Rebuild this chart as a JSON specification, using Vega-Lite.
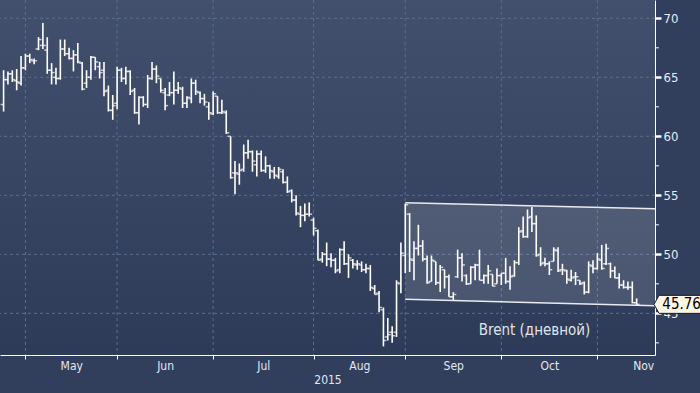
{
  "$schema": "https://vega.github.io/schema/vega-lite/v6.json",
  "width": 655,
  "height": 355,
  "autosize": {"type": "none"},
  "padding": {"left": 0, "top": 0, "right": 45, "bottom": 38},
  "background": "#313e5c",
  "config": {
    "view": {"stroke": null, "fill": {"gradient": "linear", "x1": 0, "y1": 0, "x2": 0, "y2": 1, "stops": [{"offset": 0, "color": "#43506d"}, {"offset": 1, "color": "#2d3a58"}]}},
    "font": "DejaVu Sans Condensed"
  },
  "datasets": {
    "ohlc": [
      {"j": -5, "o": 62.7, "h": 65.6, "l": 62.1, "c": 64.8},
      {"j": -4, "o": 64.8, "h": 65.5, "l": 64.4, "c": 65.3},
      {"j": -3, "o": 65.3, "h": 65.6, "l": 64.6, "c": 64.8},
      {"j": -2, "o": 64.7, "h": 65.7, "l": 63.9, "c": 64.6},
      {"j": -1, "o": 64.5, "h": 66.8, "l": 64.3, "c": 65.8},
      {"j": 0, "o": 65.8, "h": 67.0, "l": 65.6, "c": 66.8},
      {"j": 1, "o": 66.8, "h": 67.0, "l": 66.2, "c": 66.5},
      {"j": 2, "o": 66.4, "h": 66.6, "l": 66.1, "c": 66.4},
      {"j": 3, "o": 67.4, "h": 68.4, "l": 67.3, "c": 68.2},
      {"j": 4, "o": 67.7, "h": 69.6, "l": 67.4, "c": 67.7},
      {"j": 5, "o": 67.3, "h": 68.4, "l": 65.3, "c": 65.6},
      {"j": 6, "o": 65.6, "h": 66.2, "l": 64.4, "c": 65.4},
      {"j": 7, "o": 65.0, "h": 65.8, "l": 64.4, "c": 64.9},
      {"j": 8, "o": 64.9, "h": 68.2, "l": 64.8, "c": 67.4},
      {"j": 9, "o": 67.4, "h": 68.2, "l": 66.8, "c": 67.0},
      {"j": 10, "o": 67.0, "h": 67.5, "l": 66.5, "c": 66.6},
      {"j": 11, "o": 66.6, "h": 67.3, "l": 65.5, "c": 66.9},
      {"j": 12, "o": 66.9, "h": 67.9, "l": 66.2, "c": 66.3},
      {"j": 13, "o": 66.2, "h": 66.3, "l": 63.9, "c": 64.0},
      {"j": 14, "o": 64.5, "h": 65.6, "l": 64.1, "c": 65.0},
      {"j": 15, "o": 65.0, "h": 66.8, "l": 64.8, "c": 66.7},
      {"j": 16, "o": 66.7, "h": 66.7, "l": 65.6, "c": 66.3},
      {"j": 17, "o": 65.9, "h": 66.3, "l": 64.9, "c": 65.4},
      {"j": 18, "o": 65.6, "h": 66.3, "l": 63.4, "c": 63.8},
      {"j": 19, "o": 63.9, "h": 64.3, "l": 62.1, "c": 62.2},
      {"j": 20, "o": 62.2, "h": 63.5, "l": 61.4, "c": 62.6},
      {"j": 21, "o": 62.8, "h": 65.9, "l": 62.3, "c": 65.6},
      {"j": 22, "o": 65.6, "h": 65.8, "l": 64.6, "c": 64.9},
      {"j": 23, "o": 64.9, "h": 65.9, "l": 64.4, "c": 65.5},
      {"j": 24, "o": 65.5, "h": 65.6, "l": 63.5, "c": 63.8},
      {"j": 25, "o": 63.9, "h": 64.1, "l": 61.9, "c": 62.0},
      {"j": 26, "o": 62.0, "h": 63.4, "l": 61.0, "c": 63.3},
      {"j": 27, "o": 63.3, "h": 63.4, "l": 62.5, "c": 62.7},
      {"j": 28, "o": 62.7, "h": 65.2, "l": 62.4, "c": 64.9},
      {"j": 29, "o": 64.9, "h": 66.3, "l": 64.8, "c": 65.7},
      {"j": 30, "o": 65.7, "h": 66.0, "l": 64.5, "c": 65.1},
      {"j": 31, "o": 64.9, "h": 64.9, "l": 63.7, "c": 63.9},
      {"j": 32, "o": 63.7, "h": 64.1, "l": 62.2, "c": 62.6},
      {"j": 33, "o": 63.5, "h": 64.6, "l": 63.4, "c": 63.7},
      {"j": 34, "o": 63.7, "h": 65.5, "l": 62.7, "c": 63.9},
      {"j": 35, "o": 63.9, "h": 64.6, "l": 63.6, "c": 64.1},
      {"j": 36, "o": 64.0, "h": 64.2, "l": 62.4, "c": 62.8},
      {"j": 37, "o": 62.8, "h": 63.4, "l": 62.4, "c": 63.3},
      {"j": 38, "o": 63.2, "h": 64.9, "l": 62.8, "c": 64.5},
      {"j": 39, "o": 64.5, "h": 64.8, "l": 63.5, "c": 63.8},
      {"j": 40, "o": 63.7, "h": 63.8, "l": 62.8, "c": 63.2},
      {"j": 41, "o": 63.2, "h": 63.6, "l": 62.6, "c": 62.9},
      {"j": 42, "o": 62.5, "h": 62.9, "l": 61.4, "c": 62.0},
      {"j": 43, "o": 61.9, "h": 63.8, "l": 61.8, "c": 63.6},
      {"j": 44, "o": 63.4, "h": 63.4, "l": 61.9, "c": 62.0},
      {"j": 45, "o": 62.0, "h": 63.1, "l": 61.9, "c": 62.1},
      {"j": 46, "o": 62.0, "h": 62.2, "l": 60.2, "c": 60.3},
      {"j": 47, "o": 60.0, "h": 60.0, "l": 56.4, "c": 56.5},
      {"j": 48, "o": 56.9, "h": 57.9, "l": 55.1, "c": 56.9},
      {"j": 49, "o": 56.8, "h": 57.7, "l": 55.9, "c": 57.1},
      {"j": 50, "o": 57.2, "h": 59.3, "l": 57.0, "c": 58.6},
      {"j": 51, "o": 58.6, "h": 59.7, "l": 58.1, "c": 58.7},
      {"j": 52, "o": 58.7, "h": 58.8, "l": 57.0, "c": 57.9},
      {"j": 53, "o": 57.6, "h": 58.8, "l": 56.6, "c": 58.5},
      {"j": 54, "o": 58.5, "h": 58.8, "l": 57.0, "c": 57.1},
      {"j": 55, "o": 57.1, "h": 58.3, "l": 56.9, "c": 57.5},
      {"j": 56, "o": 57.5, "h": 57.6, "l": 56.4, "c": 57.1},
      {"j": 57, "o": 57.0, "h": 57.4, "l": 56.4, "c": 56.7},
      {"j": 58, "o": 56.6, "h": 57.4, "l": 56.4, "c": 57.2},
      {"j": 59, "o": 57.0, "h": 57.2, "l": 56.0, "c": 56.1},
      {"j": 60, "o": 56.1, "h": 56.6, "l": 55.2, "c": 55.3},
      {"j": 61, "o": 55.4, "h": 55.5, "l": 54.4, "c": 54.6},
      {"j": 62, "o": 54.6, "h": 55.0, "l": 53.3, "c": 53.5},
      {"j": 63, "o": 53.4, "h": 54.1, "l": 52.3, "c": 53.3},
      {"j": 64, "o": 53.3, "h": 54.3, "l": 52.8, "c": 53.4},
      {"j": 65, "o": 53.4, "h": 54.4, "l": 53.2, "c": 53.4},
      {"j": 66, "o": 52.9, "h": 53.1, "l": 51.6, "c": 52.2},
      {"j": 67, "o": 52.0, "h": 52.1, "l": 49.5, "c": 49.5},
      {"j": 68, "o": 49.6, "h": 50.2, "l": 49.3, "c": 50.0},
      {"j": 69, "o": 50.0, "h": 51.0, "l": 49.0, "c": 49.6},
      {"j": 70, "o": 49.6, "h": 50.1, "l": 48.9, "c": 49.5},
      {"j": 71, "o": 49.5, "h": 49.7, "l": 48.4, "c": 48.6},
      {"j": 72, "o": 48.7, "h": 50.5, "l": 48.4, "c": 50.4},
      {"j": 73, "o": 50.4, "h": 51.1, "l": 49.1, "c": 49.2},
      {"j": 74, "o": 49.2, "h": 50.0, "l": 48.0, "c": 49.7},
      {"j": 75, "o": 49.5, "h": 49.6, "l": 48.8, "c": 49.2},
      {"j": 76, "o": 49.1, "h": 49.5, "l": 48.7, "c": 49.2},
      {"j": 77, "o": 49.1, "h": 49.4, "l": 48.5, "c": 48.7},
      {"j": 78, "o": 48.7, "h": 49.2, "l": 48.4, "c": 48.8},
      {"j": 79, "o": 48.8, "h": 49.1, "l": 46.9, "c": 47.2},
      {"j": 80, "o": 47.1, "h": 47.4, "l": 46.6, "c": 46.6},
      {"j": 81, "o": 46.7, "h": 46.9, "l": 45.1, "c": 45.5},
      {"j": 82, "o": 45.3, "h": 45.5, "l": 42.2, "c": 42.7},
      {"j": 83, "o": 43.0, "h": 44.6, "l": 42.7, "c": 43.2},
      {"j": 84, "o": 43.4, "h": 43.9, "l": 42.5, "c": 43.1},
      {"j": 85, "o": 43.4, "h": 47.8, "l": 43.0, "c": 47.6},
      {"j": 86, "o": 47.5, "h": 51.0, "l": 46.7, "c": 50.1},
      {"j": 87, "o": 49.9, "h": 54.3, "l": 48.4, "c": 54.2},
      {"j": 88, "o": 53.4, "h": 53.5, "l": 48.5, "c": 49.6},
      {"j": 89, "o": 49.5, "h": 51.1, "l": 47.8, "c": 50.5},
      {"j": 90, "o": 50.5, "h": 52.5, "l": 49.9, "c": 50.7},
      {"j": 91, "o": 50.7, "h": 51.2, "l": 49.4, "c": 49.6},
      {"j": 92, "o": 49.6, "h": 49.9, "l": 47.5, "c": 47.6},
      {"j": 93, "o": 47.7, "h": 49.9, "l": 47.7, "c": 49.5},
      {"j": 94, "o": 49.4, "h": 49.4, "l": 47.4, "c": 47.6},
      {"j": 95, "o": 47.6, "h": 49.1, "l": 46.8, "c": 48.9},
      {"j": 96, "o": 48.7, "h": 48.7, "l": 47.1, "c": 48.1},
      {"j": 97, "o": 48.1, "h": 48.3, "l": 46.4, "c": 46.4},
      {"j": 98, "o": 46.4, "h": 46.8, "l": 46.05, "c": 46.6},
      {"j": 99, "o": 48.1, "h": 50.4, "l": 48.0, "c": 49.7},
      {"j": 100, "o": 49.7, "h": 50.1, "l": 47.7, "c": 49.1},
      {"j": 101, "o": 48.2, "h": 48.3, "l": 47.4, "c": 47.5},
      {"j": 102, "o": 47.5, "h": 49.0, "l": 47.5, "c": 48.9},
      {"j": 103, "o": 48.9, "h": 49.2, "l": 47.8, "c": 49.1},
      {"j": 104, "o": 49.1, "h": 50.4, "l": 47.8, "c": 47.8},
      {"j": 105, "o": 47.8, "h": 48.3, "l": 47.5, "c": 48.2},
      {"j": 106, "o": 48.2, "h": 49.1, "l": 47.5, "c": 48.6},
      {"j": 107, "o": 48.3, "h": 48.3, "l": 47.3, "c": 47.3},
      {"j": 108, "o": 47.5, "h": 48.8, "l": 47.5, "c": 48.2},
      {"j": 109, "o": 48.2, "h": 48.4, "l": 47.4, "c": 48.4},
      {"j": 110, "o": 48.4, "h": 49.7, "l": 47.5, "c": 47.7},
      {"j": 111, "o": 47.7, "h": 49.0, "l": 47.0, "c": 48.1},
      {"j": 112, "o": 48.2, "h": 49.5, "l": 48.1, "c": 49.3},
      {"j": 113, "o": 49.3, "h": 52.3, "l": 49.1, "c": 51.9},
      {"j": 114, "o": 52.0, "h": 53.2, "l": 51.4, "c": 51.5},
      {"j": 115, "o": 51.5, "h": 53.8, "l": 51.4, "c": 53.1},
      {"j": 116, "o": 53.2, "h": 54.0, "l": 51.9, "c": 52.6},
      {"j": 117, "o": 52.6, "h": 53.3, "l": 49.8, "c": 49.9},
      {"j": 118, "o": 50.0, "h": 50.6, "l": 49.0, "c": 49.2},
      {"j": 119, "o": 49.3, "h": 49.7, "l": 49.0, "c": 49.2},
      {"j": 120, "o": 49.2, "h": 49.4, "l": 48.25, "c": 48.7},
      {"j": 121, "o": 49.4, "h": 50.6, "l": 49.4, "c": 50.4},
      {"j": 122, "o": 50.3, "h": 50.6, "l": 48.5, "c": 48.6},
      {"j": 123, "o": 48.7, "h": 49.2, "l": 48.25, "c": 48.7},
      {"j": 124, "o": 48.6, "h": 48.7, "l": 47.5, "c": 47.9},
      {"j": 125, "o": 47.8, "h": 48.7, "l": 47.7, "c": 48.0},
      {"j": 126, "o": 48.1, "h": 48.5, "l": 47.4, "c": 48.1},
      {"j": 127, "o": 47.8, "h": 47.8, "l": 47.4, "c": 47.5},
      {"j": 128, "o": 47.6, "h": 47.7, "l": 46.6, "c": 46.8},
      {"j": 129, "o": 46.8, "h": 49.4, "l": 46.7, "c": 49.1},
      {"j": 130, "o": 49.0, "h": 49.5, "l": 48.4, "c": 48.8},
      {"j": 131, "o": 48.8, "h": 50.1, "l": 48.7, "c": 49.6},
      {"j": 132, "o": 49.5, "h": 50.8, "l": 48.7, "c": 48.8},
      {"j": 133, "o": 49.2, "h": 50.9, "l": 49.1, "c": 50.5},
      {"j": 134, "o": 49.2, "h": 49.3, "l": 48.0, "c": 48.6},
      {"j": 135, "o": 48.6, "h": 48.96, "l": 47.97, "c": 48.0},
      {"j": 136, "o": 48.0, "h": 48.4, "l": 47.1, "c": 47.4},
      {"j": 137, "o": 47.4, "h": 47.8, "l": 47.1, "c": 47.2},
      {"j": 138, "o": 47.2, "h": 47.7, "l": 47.0, "c": 47.2},
      {"j": 139, "o": 47.2, "h": 47.7, "l": 45.85, "c": 45.9},
      {"j": 140, "o": 45.9, "h": 46.27, "l": 45.7, "c": 45.76}
    ],
    "channel": [
      {"j": 87, "top": 54.37, "bot": 46.19},
      {"j": 144.2, "top": 53.86, "bot": 45.65}
    ],
    "vgrid": [{"j": 0}, {"j": 21}, {"j": 43}, {"j": 66}, {"j": 87}, {"j": 109}, {"j": 131}],
    "hgrid": [{"v": 45}, {"v": 50}, {"v": 55}, {"v": 60}, {"v": 65}, {"v": 70}],
    "minor": [{"v": 42.5}, {"v": 47.5}, {"v": 52.5}, {"v": 57.5}, {"v": 62.5}, {"v": 67.5}]
  },
  "layer": [
    {
      "data": {"name": "vgrid"},
      "mark": {"type": "rule", "color": "#5a6f92", "strokeWidth": 1, "strokeDash": [3, 3]},
      "encoding": {
        "x": {"field": "j", "type": "quantitative", "scale": {"domain": [-5.82, 144.2], "nice": false, "zero": false}}
      }
    },
    {
      "data": {"name": "hgrid"},
      "mark": {"type": "rule", "color": "#5a6f92", "strokeWidth": 1, "strokeDash": [3, 3]},
      "encoding": {
        "y": {"field": "v", "type": "quantitative", "scale": {"domain": [41.47, 71.55], "nice": false, "zero": false}}
      }
    },
    {
      "data": {"name": "ohlc"},
      "mark": {"type": "rule", "color": "#ffffff", "strokeWidth": 1.6},
      "encoding": {
        "x": {
          "field": "j", "type": "quantitative",
          "scale": {"domain": [-5.82, 144.2], "nice": false, "zero": false},
          "axis": {
            "orient": "bottom",
            "values": [0, 10.5, 21, 32, 43, 54.5, 66, 76.5, 87, 98, 109, 120, 131, 141.5],
            "labelExpr": "datum.value == 10.5 ? 'May' : datum.value == 32 ? 'Jun' : datum.value == 54.5 ? 'Jul' : datum.value == 76.5 ? 'Aug' : datum.value == 98 ? 'Sep' : datum.value == 120 ? 'Oct' : datum.value == 141.5 ? 'Nov' : ''",
            "title": "2015",
            "titleColor": "#e3e8f0",
            "titleFont": "DejaVu Sans Condensed",
            "titleFontSize": 12,
            "titleFontWeight": "normal",
            "titlePadding": 3,
            "domainColor": "#ffffff",
            "domainWidth": 1,
            "tickColor": "#ffffff",
            "tickSize": 4,
            "tickOpacity": {"condition": {"test": "indexof([0,21,43,66,87,109,131], datum.value) >= 0", "value": 1}, "value": 0},
            "grid": false,
            "labelColor": "#e3e8f0",
            "labelFont": "DejaVu Sans Condensed",
            "labelFontSize": 12,
            "labelPadding": 1,
            "labelFlush": false,
            "labelOverlap": false,
            "labelBound": false
          }
        },
        "y": {
          "field": "l", "type": "quantitative",
          "scale": {"domain": [41.47, 71.55], "nice": false, "zero": false},
          "axis": {
            "orient": "right",
            "values": [45, 50, 55, 60, 65, 70],
            "title": "",
            "domainColor": "#ffffff",
            "domainWidth": 1,
            "tickColor": "#ffffff",
            "tickSize": 6,
            "tickWidth": 2.5,
            "grid": false,
            "labelColor": "#e8ecf3",
            "labelFont": "DejaVu Sans Condensed",
            "labelFontSize": 13,
            "labelPadding": 2,
            "labelFlush": false
          }
        },
        "y2": {"field": "h"}
      }
    },
    {
      "data": {"name": "minor"},
      "mark": {"type": "rule", "color": "#ffffff", "strokeWidth": 1},
      "encoding": {
        "x": {"datum": 144.2, "type": "quantitative", "scale": {"domain": [-5.82, 144.2], "nice": false, "zero": false}},
        "x2": {"datum": 145.1},
        "y": {"field": "v", "type": "quantitative", "scale": {"domain": [41.47, 71.55], "nice": false, "zero": false}}
      }
    },
    {
      "data": {"name": "channel"},
      "mark": {"type": "area", "color": "#ffffff", "opacity": 0.13},
      "encoding": {
        "x": {"field": "j", "type": "quantitative", "scale": {"domain": [-5.82, 144.2], "nice": false, "zero": false}},
        "y": {"field": "top", "type": "quantitative", "scale": {"domain": [41.47, 71.55], "nice": false, "zero": false}},
        "y2": {"field": "bot"}
      }
    },
    {
      "data": {"name": "ohlc"},
      "mark": {"type": "tick", "orient": "horizontal", "color": "#ffffff", "size": 3, "thickness": 1.5, "xOffset": -1.5},
      "encoding": {
        "x": {"field": "j", "type": "quantitative", "scale": {"domain": [-5.82, 144.2], "nice": false, "zero": false}},
        "y": {"field": "o", "type": "quantitative", "scale": {"domain": [41.47, 71.55], "nice": false, "zero": false}}
      }
    },
    {
      "data": {"name": "ohlc"},
      "mark": {"type": "tick", "orient": "horizontal", "color": "#ffffff", "size": 3, "thickness": 1.5, "xOffset": 1.5},
      "encoding": {
        "x": {"field": "j", "type": "quantitative", "scale": {"domain": [-5.82, 144.2], "nice": false, "zero": false}},
        "y": {"field": "c", "type": "quantitative", "scale": {"domain": [41.47, 71.55], "nice": false, "zero": false}}
      }
    },
    {
      "data": {"name": "channel"},
      "mark": {"type": "line", "color": "#e8ebf0", "strokeWidth": 1.5},
      "encoding": {
        "x": {"field": "j", "type": "quantitative", "scale": {"domain": [-5.82, 144.2], "nice": false, "zero": false}},
        "y": {"field": "top", "type": "quantitative", "scale": {"domain": [41.47, 71.55], "nice": false, "zero": false}}
      }
    },
    {
      "data": {"name": "channel"},
      "mark": {"type": "line", "color": "#e8ebf0", "strokeWidth": 1.5},
      "encoding": {
        "x": {"field": "j", "type": "quantitative", "scale": {"domain": [-5.82, 144.2], "nice": false, "zero": false}},
        "y": {"field": "bot", "type": "quantitative", "scale": {"domain": [41.47, 71.55], "nice": false, "zero": false}}
      }
    },
    {
      "data": {"values": [{"label": "45.76"}]},
      "mark": {"type": "point", "shape": "M -1 0 L -0.8 -0.36 L 1 -0.36 L 1 0.36 L -0.8 0.36 Z", "size": 2500, "filled": true, "fill": "#fff6e6", "stroke": "#1c1c1c", "strokeWidth": 1, "opacity": 1},
      "encoding": {
        "x": {"datum": 149.7, "type": "quantitative", "scale": {"domain": [-5.82, 144.2], "nice": false, "zero": false}},
        "y": {"datum": 45.76, "type": "quantitative", "scale": {"domain": [41.47, 71.55], "nice": false, "zero": false}}
      }
    },
    {
      "data": {"values": [{"label": "45.76"}]},
      "mark": {"type": "text", "color": "#000000", "font": "DejaVu Sans Condensed", "fontSize": 15, "align": "center", "baseline": "middle"},
      "encoding": {
        "x": {"datum": 150.3, "type": "quantitative", "scale": {"domain": [-5.82, 144.2], "nice": false, "zero": false}},
        "y": {"datum": 45.76, "type": "quantitative", "scale": {"domain": [41.47, 71.55], "nice": false, "zero": false}},
        "text": {"field": "label"}
      }
    },
    {
      "data": {"values": [{"label": "Brent (дневной)"}]},
      "mark": {"type": "text", "color": "#dfe4ec", "font": "DejaVu Sans Condensed", "fontSize": 15, "align": "center", "baseline": "middle"},
      "encoding": {
        "x": {"datum": 116.6, "type": "quantitative", "scale": {"domain": [-5.82, 144.2], "nice": false, "zero": false}},
        "y": {"datum": 43.58, "type": "quantitative", "scale": {"domain": [41.47, 71.55], "nice": false, "zero": false}},
        "text": {"field": "label"}
      }
    }
  ]
}
